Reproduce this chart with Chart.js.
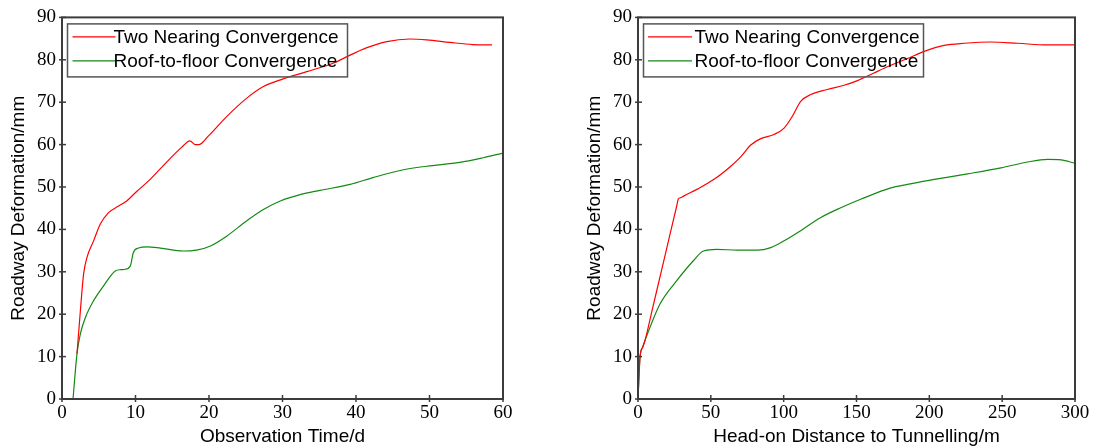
<!DOCTYPE html>
<html>
<head>
<meta charset="utf-8">
<script src="https://cdn.jsdelivr.net/npm/chart.js@4/dist/chart.umd.min.js"></script>
<style>
  body { margin: 0; background: #fff; }
  .box { position: absolute; top: 0; height: 448px; }
  #left { left: 0; width: 547px; }
  #right { left: 576px; width: 518px; }
</style>
</head>
<body>
<div class="box" id="left"><canvas id="timeChart"></canvas></div>
<div class="box" id="right"><canvas id="distChart"></canvas></div>
<script>
const seriesNames = ["Two Nearing Convergence", "Roof-to-floor Convergence"];
const yTicks = [0, 10, 20, 30, 40, 50, 60, 70, 80, 90];
const timeTicks = [0, 10, 20, 30, 40, 50, 60];
const distTicks = [0, 50, 100, 150, 200, 250, 300];

// left chart: deformation vs observation time (d)
const timeTwoX = [2.04, 2.5, 2.94, 3.4, 4.3, 5.2, 6.3, 7.7, 8.8, 10.2, 12, 14.3, 16.3, 17.4, 18.1, 18.6, 19.9, 22.4, 25.1, 27.4, 30.1, 33.3, 36.9, 39.2, 41.4, 44.2, 47.3, 49.6, 52.8, 55.9, 58.5];
const timeTwoY = [10.7, 20.8, 29.5, 33.4, 37.3, 41.2, 43.9, 45.5, 46.7, 49, 51.8, 56, 59.4, 60.9, 60.0, 60.0, 62, 66.6, 70.9, 73.7, 75.5, 77.2, 79.2, 81.1, 82.8, 84.3, 84.9, 84.7, 84.1, 83.6, 83.5];
const timeRoofX = [1.5, 2.04, 2.5, 3.2, 4.3, 5.66, 7.25, 8.0, 8.6, 9.3, 9.7, 10.4, 11.6, 13.4, 16.5, 18.3, 20.2, 22.4, 25.1, 27.4, 29.7, 32.4, 35.1, 39.2, 42.3, 46, 49.6, 54.1, 57.3, 60];
const timeRoofY = [0, 10.7, 15.4, 19.3, 23.2, 26.7, 30.2, 30.5, 30.6, 31.4, 34.5, 35.6, 35.9, 35.6, 34.9, 35.1, 36.1, 38.4, 42, 44.7, 46.7, 48.2, 49.2, 50.6, 52.2, 53.9, 54.9, 55.8, 56.9, 58];

// right chart: deformation vs head-on distance (m)
const distTwoX = [0, 1.4, 3.2, 4.8, 10, 16.2, 22, 26.5, 27.7, 29.5, 31.6, 40.8, 52.2, 63.7, 70.5, 77.4, 84.3, 93.4, 100.3, 106, 111.7, 118.6, 130, 141.5, 150.7, 162, 173.6, 185, 196.5, 210.2, 224, 242, 260.6, 281, 300];
const distTwoY = [0, 9.9, 12.2, 13.8, 21.4, 30.4, 38.9, 45.4, 47.2, 47.5, 47.9, 49.5, 51.8, 54.9, 57.1, 59.9, 61.4, 62.4, 63.9, 66.7, 70.2, 71.8, 73, 74, 75.1, 76.9, 78.7, 80.3, 82, 83.4, 83.9, 84.2, 83.9, 83.5, 83.5];
const distRoofX = [0, 1.4, 3.2, 4.8, 15.1, 26.6, 38, 44.9, 54, 68.2, 82, 91.1, 100.3, 111.7, 125.5, 139.2, 152.9, 173.6, 185, 203.3, 226.2, 249.1, 267.5, 281.2, 290.4, 300];
const distRoofY = [0, 9.9, 12.2, 13.8, 22.4, 27.9, 32.6, 34.9, 35.3, 35.1, 35.1, 35.7, 37.3, 39.7, 42.8, 45.1, 47.1, 49.8, 50.6, 51.8, 53.1, 54.5, 55.9, 56.5, 56.4, 55.6];

const colors = ["#ff0000", "#138a13"];

function points(xs, ys) {
  return xs.map((x, i) => ({ x: x, y: ys[i] }));
}

// frame, crossing ticks and boxed legend
const framePlugin = {
  id: "frame",
  afterDraw(chart, args, opts) {
    const c = chart.ctx;
    const a = chart.chartArea;
    c.save();
    c.strokeStyle = "#3c3c3c";
    c.lineWidth = 2;
    c.strokeRect(a.left, a.top, a.right - a.left, a.bottom - a.top);
    c.lineWidth = 1.5;
    chart.scales.x.ticks.forEach(t => {
      const px = chart.scales.x.getPixelForValue(t.value);
      c.beginPath();
      c.moveTo(px, a.bottom - 4);
      c.lineTo(px, a.bottom + 3);
      c.stroke();
    });
    chart.scales.y.ticks.forEach(t => {
      const py = chart.scales.y.getPixelForValue(t.value);
      c.beginPath();
      c.moveTo(a.left - 3, py);
      c.lineTo(a.left + 4, py);
      c.stroke();
    });

    const bx = a.left + 5.5, by = a.top + 6.5, bw = 280, bh = 53;
    c.strokeStyle = "#555";
    c.lineWidth = 1.5;
    c.strokeRect(bx, by, bw, bh);
    c.font = "19px 'Liberation Sans', Arial, sans-serif";
    c.textBaseline = "middle";
    c.fillStyle = "#000";
    chart.data.datasets.forEach((ds, i) => {
      const ly = a.top + 19.5 + i * 24;
      c.strokeStyle = ds.borderColor;
      c.lineWidth = 1.2;
      c.beginPath();
      c.moveTo(a.left + opts.lineFrom, ly);
      c.lineTo(a.left + opts.lineTo, ly);
      c.stroke();
      c.fillText(ds.label, a.left + opts.textAt, ly + 1);
    });
    c.restore();
  },
};

function plot(canvasId, twoPts, roofPts, xTicks, xTitle, pad, legendOpts) {
  return new Chart(document.getElementById(canvasId), {
    type: "line",
    data: {
      datasets: [
        { label: seriesNames[0], data: twoPts, borderColor: colors[0] },
        { label: seriesNames[1], data: roofPts, borderColor: colors[1] },
      ],
    },
    options: {
      animation: false,
      responsive: true,
      maintainAspectRatio: false,
      elements: {
        point: { radius: 0 },
        line: { borderWidth: 1.2, cubicInterpolationMode: "monotone", fill: false },
      },
      layout: { padding: pad },
      plugins: { legend: { display: false }, tooltip: { enabled: false }, frame: legendOpts },
      scales: {
        x: {
          type: "linear",
          min: xTicks[0],
          max: xTicks[xTicks.length - 1],
          afterBuildTicks: s => { s.ticks = xTicks.map(v => ({ value: v })); },
          afterFit: s => { s.height = 49; },
          grid: { display: false, drawTicks: false },
          border: { display: false },
          ticks: {
            color: "#000",
            padding: 3,
            maxRotation: 0,
            font: { family: "'Liberation Serif', 'Times New Roman', serif", size: 19 },
          },
          title: {
            display: true,
            text: xTitle,
            color: "#000",
            padding: { top: 0, bottom: 0 },
            font: { family: "'Liberation Sans', Arial, sans-serif", size: 19 },
          },
        },
        y: {
          min: 0,
          max: 90,
          afterBuildTicks: s => { s.ticks = yTicks.map(v => ({ value: v })); },
          afterFit: s => { s.width = 62; },
          grid: { display: false, drawTicks: false },
          border: { display: false },
          ticks: {
            color: "#000",
            padding: 6,
            font: { family: "'Liberation Serif', 'Times New Roman', serif", size: 19 },
          },
          title: {
            display: true,
            text: "Roadway Deformation/mm",
            color: "#000",
            padding: { top: 7, bottom: 0 },
            font: { family: "'Liberation Sans', Arial, sans-serif", size: 19 },
          },
        },
      },
    },
    plugins: [framePlugin],
  });
}

plot("timeChart", points(timeTwoX, timeTwoY), points(timeRoofX, timeRoofY), timeTicks,
  "Observation Time/d", { top: 16, right: 44, left: 0, bottom: 0 },
  { lineFrom: 10.5, lineTo: 53.5, textAt: 51.5 });
plot("distChart", points(distTwoX, distTwoY), points(distRoofX, distRoofY), distTicks,
  "Head-on Distance to Tunnelling/m", { top: 16, right: 19, left: 0, bottom: 0 },
  { lineFrom: 10, lineTo: 54, textAt: 56.5 });
</script>
</body>
</html>
